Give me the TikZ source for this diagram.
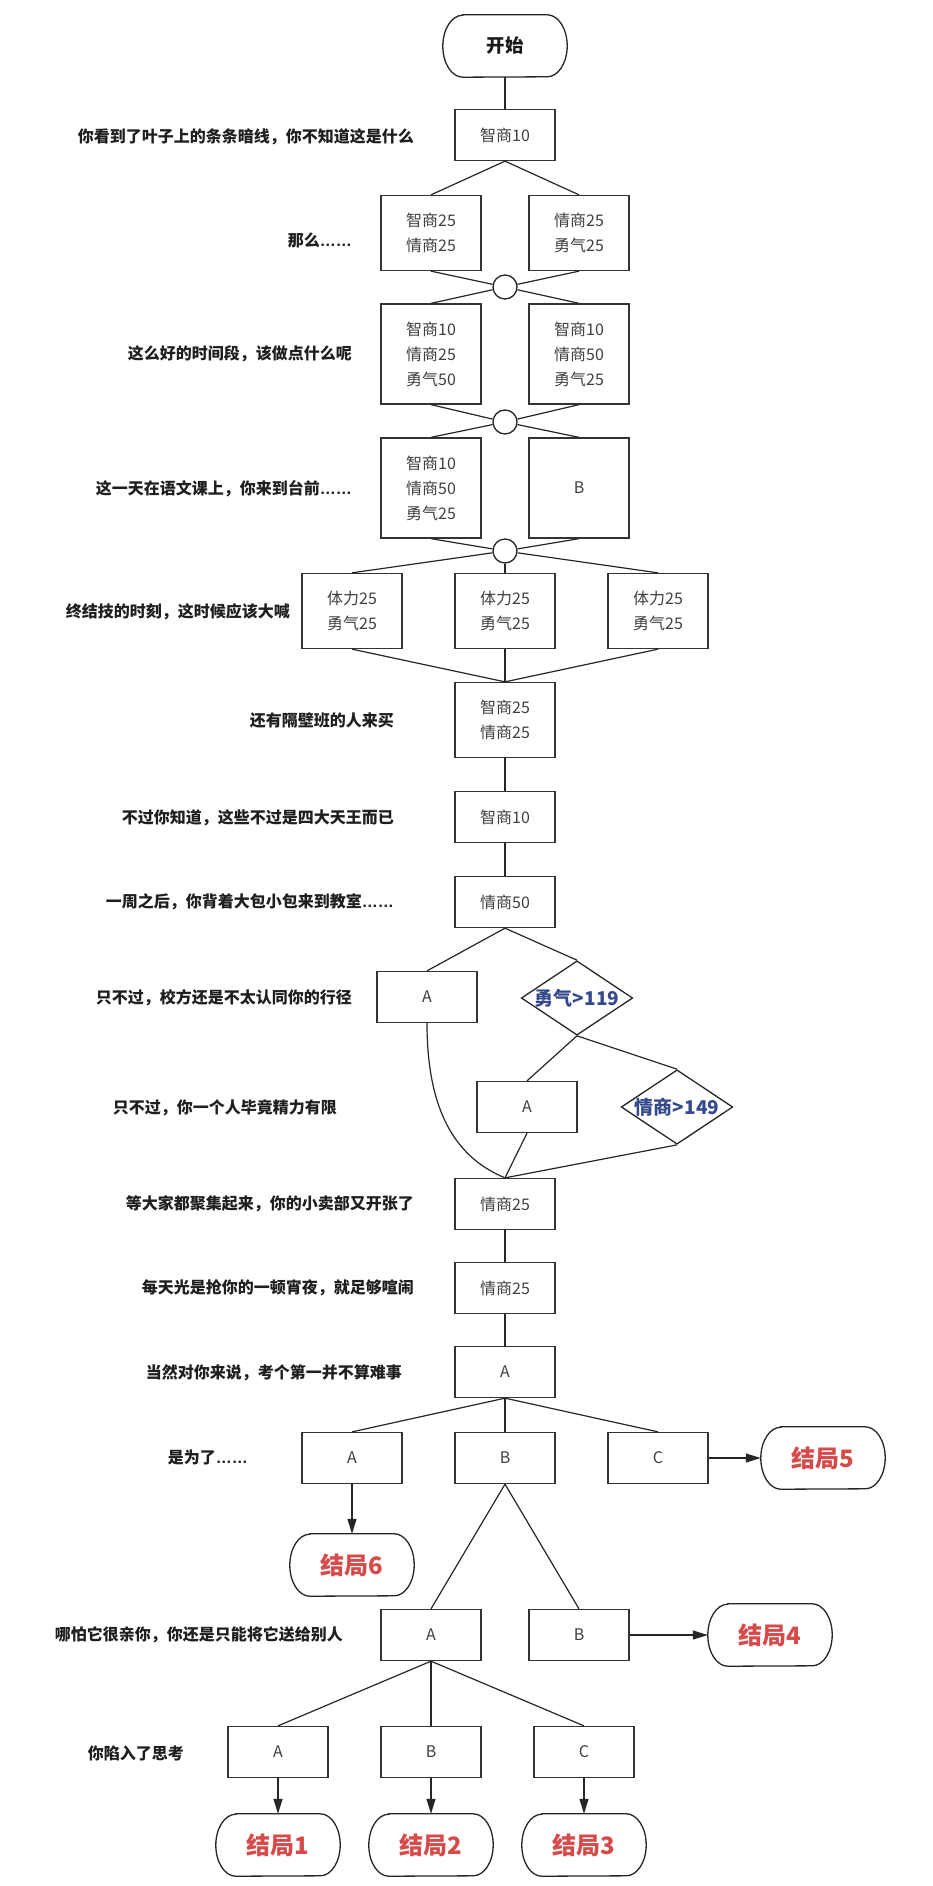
\documentclass[tikz,border=0pt]{standalone}
\usepackage{fontspec}
\setmainfont{Noto Sans CJK SC}
\newfontfamily\latinf{Liberation Sans}
\usetikzlibrary{arrows.meta,shapes.geometric}
\definecolor{endred}{RGB}{214,74,74}
\definecolor{dblue}{RGB}{52,74,140}
\newcommand{\myell}{{\latinf ……}}
\newcommand{\termshape}[1]{\draw[termline] ([xshift=20pt]#1.north west) -- ([xshift=-20pt]#1.north east) arc[start angle=90,end angle=-90,x radius=20pt,y radius=31pt] -- ([xshift=20pt]#1.south west) arc[start angle=270,end angle=90,x radius=20pt,y radius=31pt] -- cycle;}
\begin{document}
\begin{tikzpicture}[x=1pt,y=-1pt,
 box/.style={draw=black!80, line width=1.3pt, minimum width=100pt, text=black!75, font=\fontsize{16}{25}\selectfont, align=center, inner sep=0pt, fill=white},
 h1/.style={box, minimum height=51pt},
 h2/.style={box, minimum height=75pt},
 h3/.style={box, minimum height=100pt},
 termline/.style={draw=black!85, line width=1.3pt},
 term/.style={minimum width=124pt, minimum height=62pt, inner sep=0pt},
 endnode/.style={term, text=endred, font=\fontsize{24}{28}\selectfont\bfseries},
 dec/.style={diamond, draw=black!85, line width=1.3pt, minimum width=111pt, minimum height=74pt, inner sep=0pt, aspect=1.5, text=dblue, font=\fontsize{19}{22}\selectfont\bfseries},
 joint/.style={circle, draw=black!85, line width=1.3pt, fill=white, minimum size=24pt, inner sep=0pt},
 lbl/.style={anchor=east, text=black!88, font=\fontsize{16}{20}\selectfont\bfseries, inner sep=0pt},
 ln/.style={draw=black!85, line width=1.2pt},
 arr/.style={ln, -{Triangle[length=15pt,width=9pt]}}
]
\useasboundingbox (0,0) rectangle (932,1886);
\fill[white] (0,0) rectangle (932,1886);

\node[term, font=\fontsize{18.5}{22}\selectfont\bfseries, text=black!90] (start) at (505,46) {开始};
\node[h1] (n1) at (505,135) {智商10};
\node[h2] (n2a) at (431,233) {智商25\\情商25};
\node[h2] (n2b) at (579,233) {情商25\\勇气25};
\node[joint] (j1) at (505,287) {};
\node[h3] (n3a) at (431,354) {智商10\\情商25\\勇气50};
\node[h3] (n3b) at (579,354) {智商10\\情商50\\勇气25};
\node[joint] (j2) at (505,422) {};
\node[h3] (n4a) at (431,488) {智商10\\情商50\\勇气25};
\node[h3] (n4b) at (579,488) {B};
\node[joint] (j3) at (505,551) {};
\node[h2] (n5a) at (352,611) {体力25\\勇气25};
\node[h2] (n5b) at (505,611) {体力25\\勇气25};
\node[h2] (n5c) at (658,611) {体力25\\勇气25};
\node[h2] (n6) at (505,720) {智商25\\情商25};
\node[h1] (n7) at (505,817) {智商10};
\node[h1] (n8) at (505,902) {情商50};
\node[h1] (n9a) at (427,997) {A};
\node[dec] (d1) at (577,998) {勇气>119};
\node[h1] (n10a) at (527,1107) {A};
\node[dec] (d2) at (677,1107) {情商>149};
\node[h1] (n11) at (505,1204) {情商25};
\node[h1] (n12) at (505,1288) {情商25};
\node[h1] (n13) at (505,1372) {A};
\node[h1] (n14a) at (352,1458) {A};
\node[h1] (n14b) at (505,1458) {B};
\node[h1] (n14c) at (658,1458) {C};
\node[endnode] (e5) at (823,1458) {结局5};
\node[endnode] (e6) at (352,1565) {结局6};
\node[h1] (n15a) at (431,1635) {A};
\node[h1] (n15b) at (579,1635) {B};
\node[endnode] (e4) at (770,1635) {结局4};
\node[h1] (n16a) at (278,1752) {A};
\node[h1] (n16b) at (431,1752) {B};
\node[h1] (n16c) at (584,1752) {C};
\node[endnode] (e1) at (278,1845) {结局1};
\node[endnode] (e2) at (431,1845) {结局2};
\node[endnode] (e3) at (584,1845) {结局3};

\termshape{start}
\termshape{e1}
\termshape{e2}
\termshape{e3}
\termshape{e4}
\termshape{e5}
\termshape{e6}

\draw[ln] (start.south) -- (n1.north);
\draw[ln] (n1.south) -- (n2a.north);
\draw[ln] (n1.south) -- (n2b.north);
\draw[ln] (n2a.south) -- (j1);
\draw[ln] (n2b.south) -- (j1);
\draw[ln] (j1) -- (n3a.north);
\draw[ln] (j1) -- (n3b.north);
\draw[ln] (n3a.south) -- (j2);
\draw[ln] (n3b.south) -- (j2);
\draw[ln] (j2) -- (n4a.north);
\draw[ln] (j2) -- (n4b.north);
\draw[ln] (n4a.south) -- (j3);
\draw[ln] (n4b.south) -- (j3);
\draw[ln] (j3) -- (n5a.north);
\draw[ln] (j3) -- (n5b.north);
\draw[ln] (j3) -- (n5c.north);
\draw[ln] (n5a.south) -- (n6.north);
\draw[ln] (n5b.south) -- (n6.north);
\draw[ln] (n5c.south) -- (n6.north);
\draw[ln] (n6.south) -- (n7.north);
\draw[ln] (n7.south) -- (n8.north);
\draw[ln] (n8.south) -- (n9a.north);
\draw[ln] (n8.south) -- (d1.north);
\draw[ln] (d1.south) -- (n10a.north);
\draw[ln] (d1.south) -- (d2.north);
\draw[ln] (n9a.south) .. controls (427,1120) and (462,1160) .. (n11.north);
\draw[ln] (n10a.south) -- (n11.north);
\draw[ln] (d2.south) -- (n11.north);
\draw[ln] (n11.south) -- (n12.north);
\draw[ln] (n12.south) -- (n13.north);
\draw[ln] (n13.south) -- (n14a.north);
\draw[ln] (n13.south) -- (n14b.north);
\draw[ln] (n13.south) -- (n14c.north);
\draw[arr] (n14c.east) -- (e5.west);
\draw[arr] (n14a.south) -- (e6.north);
\draw[ln] (n14b.south) -- (n15a.north);
\draw[ln] (n14b.south) -- (n15b.north);
\draw[arr] (n15b.east) -- (e4.west);
\draw[ln] (n15a.south) -- (n16a.north);
\draw[ln] (n15a.south) -- (n16b.north);
\draw[ln] (n15a.south) -- (n16c.north);
\draw[arr] (n16a.south) -- (e1.north);
\draw[arr] (n16b.south) -- (e2.north);
\draw[arr] (n16c.south) -- (e3.north);

\node[lbl] (l1) at (414,137) {你看到了叶子上的条条暗线，你不知道这是什么};
\node[lbl] (l2) at (352,240) {那么\myell};
\node[lbl] (l3) at (352,354) {这么好的时间段，该做点什么呢};
\node[lbl] (l4) at (352,489) {这一天在语文课上，你来到台前\myell};
\node[lbl] (l5) at (290,612) {终结技的时刻，这时候应该大喊};
\node[lbl] (l6) at (394,720) {还有隔壁班的人来买};
\node[lbl] (l7) at (394,818) {不过你知道，这些不过是四大天王而已};
\node[lbl] (l8) at (394,902) {一周之后，你背着大包小包来到教室\myell};
\node[lbl] (l9) at (352,998) {只不过，校方还是不太认同你的行径};
\node[lbl] (l10) at (337,1108) {只不过，你一个人毕竟精力有限};
\node[lbl] (l11) at (414,1204) {等大家都聚集起来，你的小卖部又开张了};
\node[lbl] (l12) at (414,1288) {每天光是抢你的一顿宵夜，就足够喧闹};
\node[lbl] (l13) at (402,1373) {当然对你来说，考个第一并不算难事};
\node[lbl] (l14) at (248,1457) {是为了\myell};
\node[lbl] (l15) at (343,1635) {哪怕它很亲你，你还是只能将它送给别人};
\node[lbl] (l16) at (184,1753) {你陷入了思考};
\end{tikzpicture}
\end{document}
